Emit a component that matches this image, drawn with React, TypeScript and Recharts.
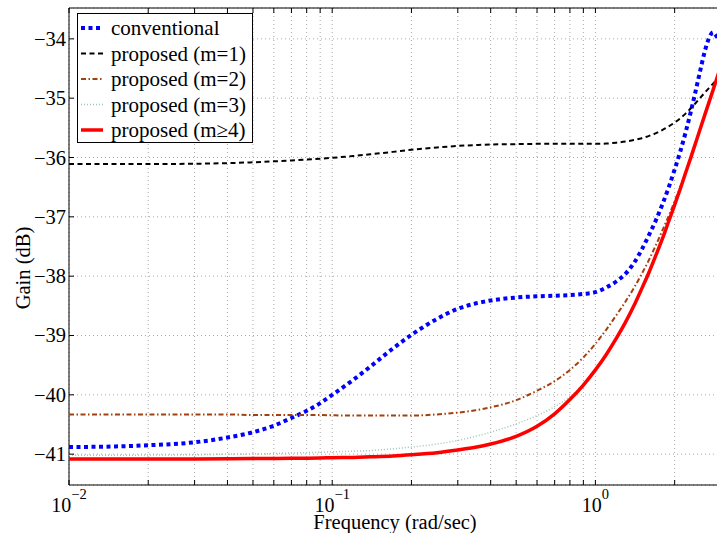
import React from 'react';
import { LineChart, Line, XAxis, YAxis, CartesianGrid, ReferenceArea } from 'recharts';

// ---------- data ----------
const freq = [0.01, 0.015, 0.02, 0.03, 0.04, 0.05, 0.06, 0.07, 0.08, 0.09, 0.1, 0.12, 0.14, 0.17, 0.2, 0.25, 0.3, 0.35, 0.4, 0.5, 0.6, 0.7, 0.8, 0.9, 1.0, 1.1, 1.2, 1.3, 1.4, 1.5, 1.6, 1.7, 1.8, 1.9, 2.0, 2.1, 2.2, 2.3, 2.4, 2.5, 2.6, 2.7, 2.8, 2.9, 3.0];

const conventional = [-40.88, -40.87, -40.85, -40.8, -40.72, -40.63, -40.52, -40.39, -40.27, -40.14, -40.0, -39.75, -39.52, -39.22, -38.99, -38.72, -38.55, -38.46, -38.41, -38.36, -38.34, -38.33, -38.32, -38.3, -38.27, -38.19, -38.09, -37.96, -37.78, -37.55, -37.3, -37.05, -36.78, -36.5, -36.2, -35.9, -35.58, -35.24, -34.89, -34.54, -34.22, -33.99, -33.89, -33.97, -34.08];

const proposedM1 = [-36.11, -36.11, -36.11, -36.105, -36.095, -36.08, -36.065, -36.05, -36.035, -36.02, -36.005, -35.975, -35.945, -35.905, -35.87, -35.83, -35.805, -35.79, -35.78, -35.775, -35.77, -35.77, -35.77, -35.77, -35.77, -35.765, -35.75, -35.73, -35.705, -35.675, -35.635, -35.59, -35.535, -35.475, -35.41, -35.34, -35.26, -35.175, -35.085, -34.995, -34.91, -34.83, -34.755, -34.685, -34.62];

const proposedM2 = [-40.33, -40.33, -40.33, -40.33, -40.33, -40.34, -40.34, -40.34, -40.34, -40.34, -40.345, -40.35, -40.35, -40.35, -40.35, -40.33, -40.3, -40.26, -40.21, -40.09, -39.93, -39.77, -39.58, -39.37, -39.14, -38.9, -38.66, -38.43, -38.2, -37.96, -37.72, -37.47, -37.22, -36.98, -36.74, -36.5, -36.25, -36.0, -35.75, -35.515, -35.285, -35.065, -34.855, -34.65, -34.45];

const proposedM3 = [-41.02, -41.02, -41.015, -41.01, -41.0, -40.995, -40.99, -40.98, -40.975, -40.965, -40.96, -40.95, -40.94, -40.91, -40.88, -40.83, -40.77, -40.7, -40.63, -40.49, -40.35, -40.2, -40.03, -39.815, -39.575, -39.315, -39.045, -38.775, -38.495, -38.205, -37.925, -37.635, -37.355, -37.065, -36.795, -36.525, -36.255, -36.005, -35.755, -35.515, -35.285, -35.065, -34.855, -34.645, -34.445];

const proposedM4 = [-41.08, -41.08, -41.08, -41.08, -41.078, -41.075, -41.073, -41.07, -41.068, -41.065, -41.06, -41.055, -41.045, -41.03, -41.01, -40.975, -40.93, -40.885, -40.83, -40.7, -40.53, -40.32, -40.08, -39.835, -39.58, -39.32, -39.05, -38.78, -38.5, -38.21, -37.93, -37.64, -37.36, -37.07, -36.8, -36.53, -36.26, -36.01, -35.76, -35.52, -35.29, -35.07, -34.86, -34.65, -34.45];

const seriesNames = ['conventional', 'proposed (m=1)', 'proposed (m=2)', 'proposed (m=3)', 'proposed (m\u22654)'];

const xTicks = [0.01, 0.02, 0.03, 0.04, 0.05, 0.06, 0.07, 0.08, 0.09, 0.1, 0.2, 0.3, 0.4, 0.5, 0.6, 0.7, 0.8, 0.9, 1, 2];
const decadeTicks = [0.01, 0.1, 1];
const decadeExponents = ['\u22122', '\u22121', '0'];
const yTicks = [-41, -40, -39, -38, -37, -36, -35, -34];

const xTitle = 'Frequency (rad/sec)';
const yTitle = 'Gain (dB)';

// ---------- layout / style ----------
const FONT = '"Liberation Serif", "Times New Roman", Times, serif';
const CHART_W = 721;
const CHART_H = 533;
const PLOT_LEFT = 69;
const PLOT_TOP = 8;
const X_AXIS_H = 48;
const PLOT_BOTTOM = CHART_H - X_AXIS_H;
const TICK_LEN = 5;

const styles = [
  { key: 'conv', color: '#0000ff', width: 4, dash: '4 3.5' },
  { key: 'm1', color: '#000000', width: 2, dash: '5 3.5' },
  { key: 'm2', color: '#a3400f', width: 2, dash: '5 2.5 1.5 2.5' },
  { key: 'm3', color: '#9fc5b5', width: 1.5, dash: '1 2' },
  { key: 'm4', color: '#ff0000', width: 3.5, dash: undefined as string | undefined },
];

const seriesValues = [conventional, proposedM1, proposedM2, proposedM3, proposedM4];

const data = freq.map((f, i) => {
  const row: Record<string, number> = { f };
  styles.forEach((s, k) => {
    row[s.key] = seriesValues[k][i];
  });
  return row;
});

const XTick = (props: any) => {
  const { x, payload } = props;
  const idx = decadeTicks.indexOf(payload.value);
  return (
    <g>
      <line x1={x} y1={PLOT_BOTTOM} x2={x} y2={PLOT_BOTTOM - TICK_LEN} stroke="#000" strokeWidth={1} />
      <line x1={x} y1={PLOT_TOP} x2={x} y2={PLOT_TOP + TICK_LEN} stroke="#000" strokeWidth={1} />
      {idx >= 0 && (
        <text x={x} y={512} textAnchor="middle" fontFamily={FONT} fontSize={20} fill="#000">
          10
          <tspan dy={-13} fontSize={14.5}>{decadeExponents[idx]}</tspan>
        </text>
      )}
    </g>
  );
};

const YTick = (props: any) => {
  const { y, payload } = props;
  return (
    <g>
      <line x1={PLOT_LEFT} y1={y} x2={PLOT_LEFT + TICK_LEN} y2={y} stroke="#000" strokeWidth={1} />
      <text x={PLOT_LEFT - 3} y={y + 7} textAnchor="end" fontFamily={FONT} fontSize={20.5} fill="#000">
        {String(payload.value).replace('-', '\u2212')}
      </text>
    </g>
  );
};

const XTitle = (props: any) => {
  const vb = props.viewBox || { x: PLOT_LEFT, width: CHART_W - PLOT_LEFT };
  return (
    <text x={vb.x + vb.width / 2} y={529} textAnchor="middle" fontFamily={FONT} fontSize={20.5} fill="#000">
      {xTitle}
    </text>
  );
};

const YTitle = () => (
  <text
    x={0}
    y={0}
    transform="translate(23,268) rotate(-90)"
    textAnchor="middle"
    dominantBaseline="central"
    fontFamily={FONT}
    fontSize={20.5}
    fill="#000"
  >
    {yTitle}
  </text>
);

const LegendBox = () => {
  const rowH = 25.5;
  return (
    <div
      style={{
        position: 'absolute',
        left: 77,
        top: 13,
        width: 176,
        height: 130,
        boxSizing: 'border-box',
        border: '1px solid #000',
        background: '#fff',
      }}
    >
      <svg width={174} height={128} style={{ display: 'block' }}>
        {seriesNames.map((name, i) => {
          const s = styles[i];
          const cy = 14 + rowH * i;
          return (
            <g key={name}>
              <line x1={3} y1={cy} x2={25} y2={cy} stroke={s.color} strokeWidth={s.width} strokeDasharray={s.dash} />
              <text x={33} y={cy + 7} fontFamily={FONT} fontSize={21} fill="#000">
                {name}
              </text>
            </g>
          );
        })}
      </svg>
    </div>
  );
};

export default function App() {
  return (
    <div style={{ position: 'absolute', left: 0, top: 0, width: 717, height: 533, overflow: 'hidden', background: '#fff' }}>
      <LineChart width={CHART_W} height={CHART_H} data={data} margin={{ top: PLOT_TOP, right: 0, bottom: 0, left: 0 }}>
        <CartesianGrid stroke="#a8a8a8" strokeDasharray="1 3" strokeWidth={1} />
        <XAxis
          dataKey="f"
          type="number"
          scale="log"
          domain={[0.01, 3]}
          allowDataOverflow
          ticks={xTicks}
          interval={0}
          tick={<XTick />}
          tickLine={false}
          axisLine={false}
          height={X_AXIS_H}
          label={<XTitle />}
        />
        <YAxis
          type="number"
          domain={[-41.52, -33.48]}
          allowDataOverflow
          ticks={yTicks}
          interval={0}
          tick={<YTick />}
          tickLine={false}
          axisLine={false}
          width={PLOT_LEFT}
          label={<YTitle />}
        />
        <ReferenceArea x1={0.01} x2={3} y1={-41.52} y2={-33.48} fill="none" stroke="#000" strokeWidth={1} ifOverflow="visible" />
        {styles.map((s) => (
          <Line
            key={s.key}
            dataKey={s.key}
            type="monotone"
            stroke={s.color}
            strokeWidth={s.width}
            strokeDasharray={s.dash}
            dot={false}
            activeDot={false}
            isAnimationActive={false}
          />
        ))}
      </LineChart>
      <LegendBox />
    </div>
  );
}
